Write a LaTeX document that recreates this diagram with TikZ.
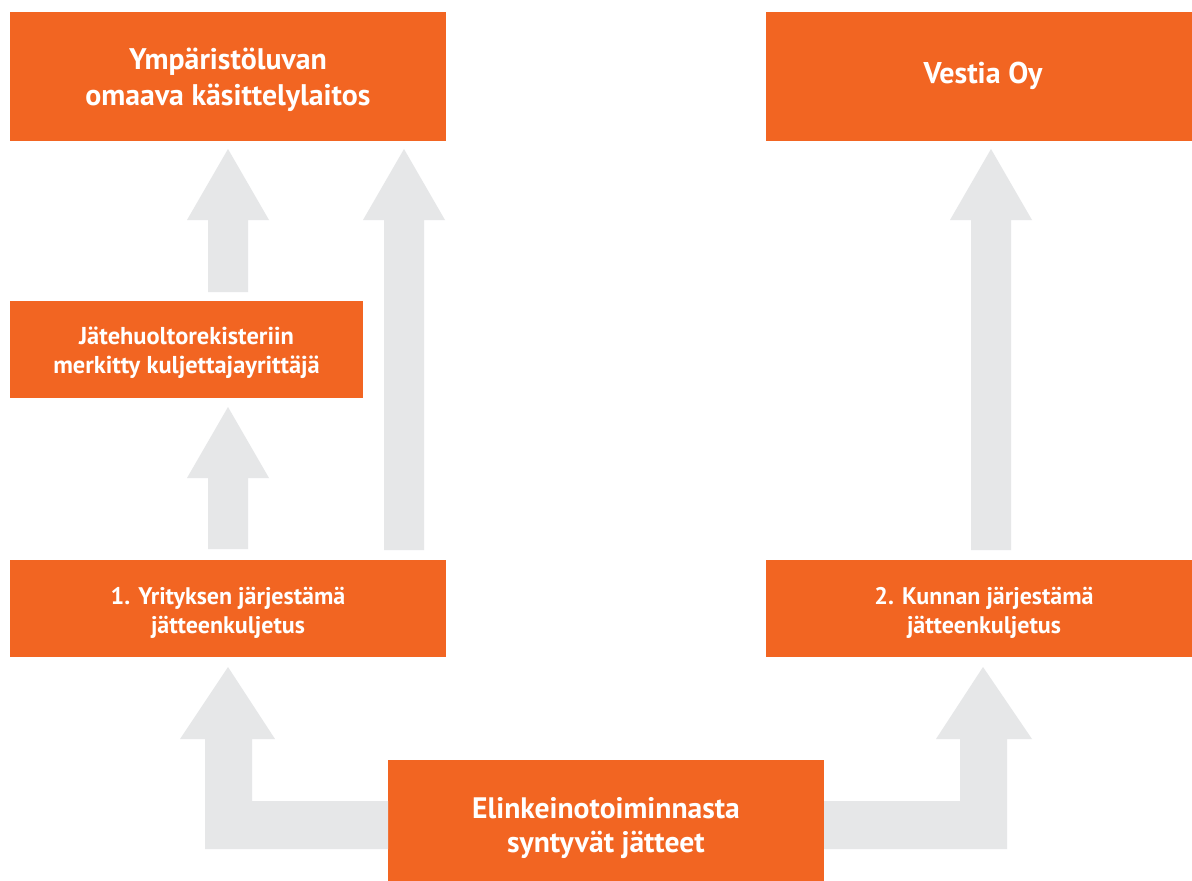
\documentclass[tikz,border=0pt]{standalone}
\usepackage{fontspec}
\setmainfont{PT Sans}
\definecolor{boxorange}{HTML}{F26522}
\definecolor{flowgray}{HTML}{E6E7E8}
\begin{document}
\begin{tikzpicture}[x=1pt,y=-1pt,
  box/.style={fill=boxorange, draw=none, inner sep=0pt, text=white, align=center, font=\bfseries},
  flow/.style={fill=flowgray, draw=none}]
\useasboundingbox (0,0) rectangle (1192,881);
\fill[white] (0,0) rectangle (1192,881);
% boxes
\path[box] (10,12) rectangle (446,141);
\node[box, font=\bfseries\fontsize{29.8}{36}\selectfont] (plant) at (228,80) {Ympäristöluvan\\omaava käsittelylaitos};
\path[box] (766,12) rectangle (1192,141);
\node[box, font=\bfseries\fontsize{30}{35}\selectfont] (vestia) at (983,76) {Vestia Oy};
\path[box] (10,301) rectangle (363,398);
\node[box, font=\bfseries\fontsize{24.4}{29}\selectfont] (carrier) at (186.5,352.5) {Jätehuoltorekisteriin\\merkitty kuljettajayrittäjä};
\path[box] (10,560) rectangle (446,657);
\node[box, font=\bfseries\fontsize{24}{29}\selectfont] (company) at (228,613) {1. Yrityksen järjestämä\\jätteenkuljetus};
\path[box] (766,560) rectangle (1192,657);
\node[box, font=\bfseries\fontsize{24}{29}\selectfont] (municipal) at (984,613) {2. Kunnan järjestämä\\jätteenkuljetus};
\path[box] (388,760) rectangle (824,881);
\node[box, font=\bfseries\fontsize{29.6}{34}\selectfont] (waste) at (606,828) {Elinkeinotoiminnasta\\syntyvät jätteet};
% block arrows
\fill[flow] (208,292) -- (208,220) -- (187,220) -- (228,149) -- (269,220) -- (248,220) -- (248,292) -- cycle;
\fill[flow] (208,549) -- (208,478) -- (187,478) -- (228,407) -- (269,478) -- (248,478) -- (248,549) -- cycle;
\fill[flow] (384,550) -- (384,220) -- (363,220) -- (404,149) -- (445,220) -- (424,220) -- (424,550) -- cycle;
\fill[flow] (971,550) -- (971,220) -- (950,220) -- (991,149) -- (1032,220) -- (1011,220) -- (1011,550) -- cycle;
\fill[flow] (388,801) -- (252,801) -- (252,739) -- (275,739) -- (228,667) -- (180,739) -- (205,739) -- (205,849) -- (388,849) -- cycle;
\fill[flow] (824,801) -- (960,801) -- (960,739) -- (936,739) -- (983,667) -- (1032,739) -- (1007,739) -- (1007,849) -- (824,849) -- cycle;
\end{tikzpicture}
\end{document}
